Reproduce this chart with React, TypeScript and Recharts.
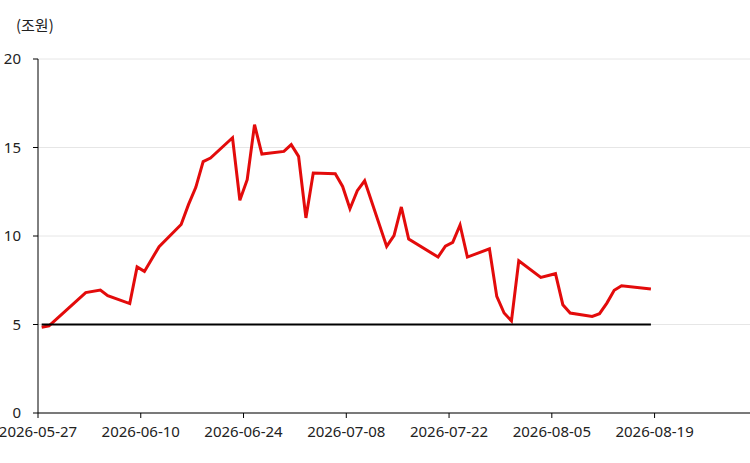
import { CartesianGrid, Line, LineChart, XAxis, YAxis } from "recharts"

const dates = [
  "2026-05-27", "2026-05-28", "2026-06-02", "2026-06-04", "2026-06-05",
  "2026-06-08", "2026-06-09", "2026-06-10", "2026-06-12", "2026-06-15",
  "2026-06-16", "2026-06-17", "2026-06-18", "2026-06-19", "2026-06-22",
  "2026-06-23", "2026-06-24", "2026-06-25", "2026-06-26", "2026-06-29",
  "2026-06-30", "2026-07-01", "2026-07-02", "2026-07-03", "2026-07-06",
  "2026-07-07", "2026-07-08", "2026-07-09", "2026-07-10", "2026-07-13",
  "2026-07-14", "2026-07-15", "2026-07-16", "2026-07-20", "2026-07-21",
  "2026-07-22", "2026-07-23", "2026-07-24", "2026-07-27", "2026-07-28",
  "2026-07-29", "2026-07-30", "2026-07-31", "2026-08-03", "2026-08-05",
  "2026-08-06", "2026-08-07", "2026-08-10", "2026-08-11", "2026-08-12",
  "2026-08-13", "2026-08-14", "2026-08-18",
]

// 잔고 (조원)
const balance = [
  4.85, 4.93, 6.8, 6.95, 6.63,
  6.18, 8.25, 8.0, 9.4, 10.65,
  11.77, 12.75, 14.2, 14.4, 15.55,
  12.02, 13.18, 16.29, 14.63, 14.78,
  15.16, 14.5, 11.02, 13.56, 13.52,
  12.8, 11.54, 12.56, 13.12, 9.41,
  10.02, 11.64, 9.83, 8.81, 9.43,
  9.64, 10.62, 8.81, 9.28, 6.59,
  5.65, 5.2, 8.6, 7.66, 7.87,
  6.12, 5.65, 5.46, 5.61, 6.21,
  6.93, 7.19, 7.0,
]

const baseline = 5

const tickDates = [
  "2026-05-27", "2026-06-10", "2026-06-24", "2026-07-08",
  "2026-07-22", "2026-08-05", "2026-08-19",
]
const yTicks = [0, 5, 10, 15, 20]
const domainStart = "2026-05-27"
const domainEnd = "2026-09-01"

const toTs = (d: string) => Date.parse(d + "T00:00:00Z")
const HALF_DAY = 12 * 3600 * 1000

const data = dates.map((d, i) => ({
  t: toTs(d) + HALF_DAY,
  balance: balance[i],
  base: baseline,
}))

const fmt = (t: number) => new Date(t).toISOString().slice(0, 10)

export default function App() {
  return (
    <div style={{ position: "relative", width: 750, height: 463, fontFamily: "'Noto Sans', 'Noto Sans CJK KR', sans-serif" }}>
      <style>{`body{margin:0}`}</style>
      <div style={{ position: "absolute", left: 16, top: 14, fontSize: 15, color: "#222", fontFamily: "'Noto Sans CJK KR', sans-serif" }}>(조원)</div>
      <LineChart width={750} height={463} data={data} margin={{ top: 59, right: 0, bottom: 14, left: 0 }}>
        <CartesianGrid vertical={false} stroke="#e6e6e6" />
        <XAxis
          dataKey="t"
          type="number"
          scale="time"
          domain={[toTs(domainStart), toTs(domainEnd)]}
          ticks={tickDates.map(toTs)}
          tickFormatter={fmt}
          stroke="#000"
          tick={{ fill: "#222", fontSize: 15 }}
          tickSize={5}
          tickMargin={8}
          height={36}
          interval={0}
        />
        <YAxis
          domain={[0, 20]}
          ticks={yTicks}
          stroke="#000"
          tick={{ fill: "#222", fontSize: 15 }}
          tickSize={5}
          tickMargin={12}
          width={38}
        />
        <Line dataKey="balance" stroke="#e30b0b" strokeWidth={3} dot={false} isAnimationActive={false} />
        <Line dataKey="base" stroke="#000" strokeWidth={2} dot={false} isAnimationActive={false} />
      </LineChart>
    </div>
  )
}
